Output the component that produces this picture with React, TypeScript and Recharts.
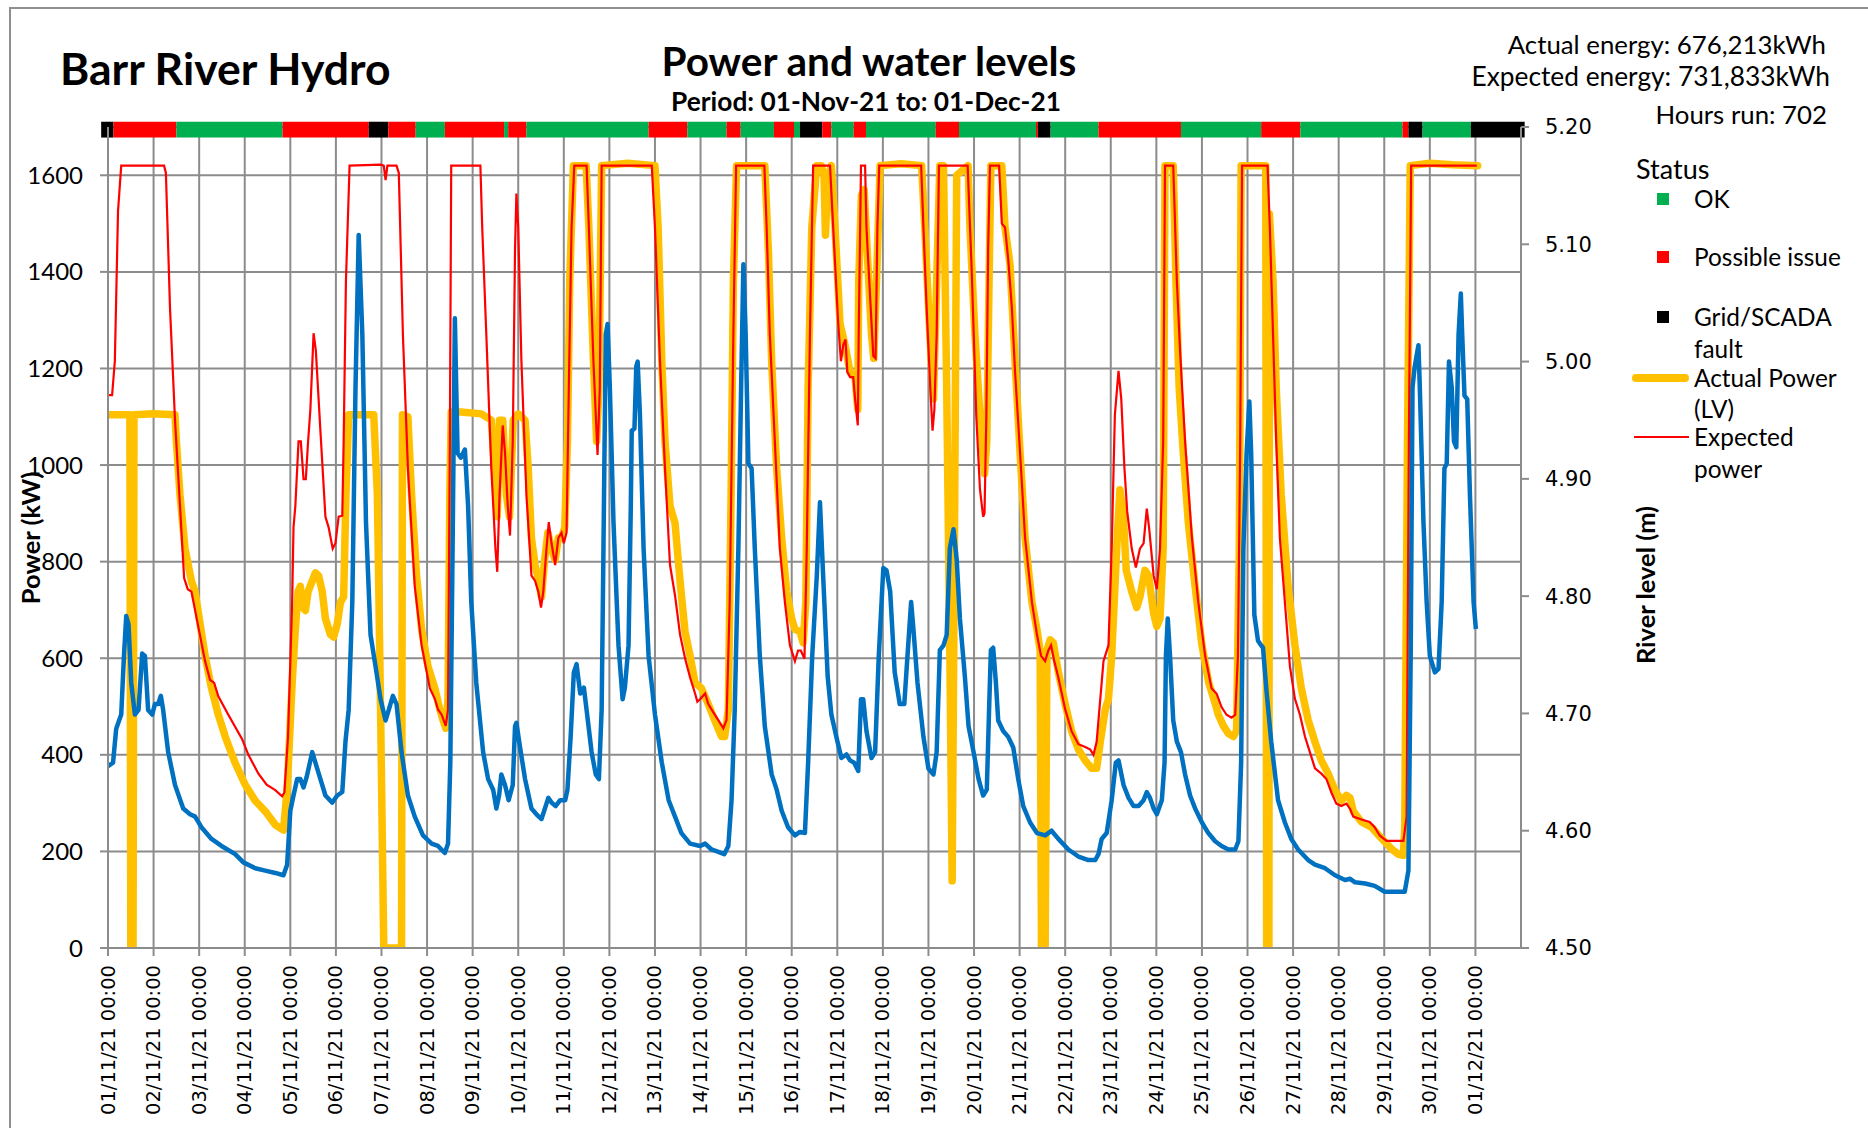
import React from 'react';
import {
  ComposedChart,
  Line,
  XAxis,
  YAxis,
  CartesianGrid,
  ReferenceArea,
} from 'recharts';

// ---------- axis ticks ----------
const dayTicks: number[] = [
  0, 1, 2, 3, 4, 5, 6, 7, 8, 9, 10, 11, 12, 13, 14, 15, 16, 17, 18, 19, 20,
  21, 22, 23, 24, 25, 26, 27, 28, 29, 30,
];
const xTickLabels: string[] = [
  '01/11/21 00:00', '02/11/21 00:00', '03/11/21 00:00', '04/11/21 00:00',
  '05/11/21 00:00', '06/11/21 00:00', '07/11/21 00:00', '08/11/21 00:00',
  '09/11/21 00:00', '10/11/21 00:00', '11/11/21 00:00', '12/11/21 00:00',
  '13/11/21 00:00', '14/11/21 00:00', '15/11/21 00:00', '16/11/21 00:00',
  '17/11/21 00:00', '18/11/21 00:00', '19/11/21 00:00', '20/11/21 00:00',
  '21/11/21 00:00', '22/11/21 00:00', '23/11/21 00:00', '24/11/21 00:00',
  '25/11/21 00:00', '26/11/21 00:00', '27/11/21 00:00', '28/11/21 00:00',
  '29/11/21 00:00', '30/11/21 00:00', '01/12/21 00:00',
];
const powerTicks: number[] = [0, 200, 400, 600, 800, 1000, 1200, 1400, 1600];
const levelTicks: number[] = [4.5, 4.6, 4.7, 4.8, 4.9, 5.0, 5.1, 5.2];

// ---------- series: [day since 01-Nov 00:00, value] ----------
const actualPower: [number, number][] = [
  [0, 1104], [0.48, 1104], [0.5, 0], [0.55, 0], [0.57, 1104], [1.0, 1106], [1.47, 1104],
  [1.5, 1049], [1.58, 938], [1.69, 827], [1.83, 760], [1.91, 738], [2.02, 671], [2.13, 605],
  [2.27, 538], [2.42, 483], [2.57, 438], [2.79, 383], [3.01, 338], [3.23, 305], [3.45, 283],
  [3.67, 255], [3.85, 244], [3.93, 327], [4.04, 549], [4.11, 660], [4.17, 738], [4.22, 749],
  [4.27, 705], [4.33, 699], [4.39, 738], [4.46, 755], [4.55, 777], [4.62, 771], [4.7, 738],
  [4.77, 682], [4.88, 649], [4.95, 644], [5.03, 671], [5.1, 716], [5.17, 727], [5.22, 938],
  [5.28, 1104], [5.83, 1104], [5.91, 938], [5.98, 494], [6.05, 0], [6.44, 0], [6.46, 1104],
  [6.58, 1100], [6.66, 938], [6.77, 771], [6.88, 660], [7.02, 583], [7.17, 538], [7.28, 494],
  [7.35, 472], [7.41, 455], [7.46, 516], [7.5, 938], [7.53, 1110], [7.75, 1110], [8.19, 1106],
  [8.41, 1093], [8.48, 993], [8.54, 893], [8.59, 1093], [8.66, 1093], [8.74, 938], [8.81, 893],
  [8.89, 1093], [9.0, 1106], [9.15, 1093], [9.22, 993], [9.29, 849], [9.37, 793], [9.45, 760],
  [9.51, 727], [9.58, 804], [9.65, 860], [9.73, 827], [9.81, 804], [9.88, 849], [9.95, 849],
  [10.02, 871], [10.08, 1049], [10.13, 1381], [10.21, 1620], [10.49, 1620], [10.55, 1492],
  [10.65, 1215], [10.72, 1049], [10.77, 1160], [10.83, 1620], [11.4, 1625], [12.0, 1620],
  [12.07, 1492], [12.15, 1215], [12.22, 1049], [12.33, 915], [12.44, 880], [12.55, 760],
  [12.66, 655], [12.77, 605], [12.88, 549], [13.02, 538], [13.17, 505], [13.31, 472],
  [13.46, 438], [13.53, 438], [13.61, 494], [13.67, 938], [13.72, 1381], [13.79, 1620],
  [14.41, 1620], [14.49, 1440], [14.56, 1215], [14.67, 993], [14.78, 849], [14.89, 738],
  [15.0, 682], [15.07, 660], [15.18, 655], [15.25, 632], [15.31, 716], [15.36, 1160],
  [15.44, 1492], [15.55, 1620], [15.65, 1620], [15.71, 1600], [15.74, 1476], [15.79, 1590],
  [15.87, 1620], [15.95, 1492], [16.06, 1293], [16.17, 1248], [16.28, 1193], [16.39, 1182],
  [16.45, 1115], [16.47, 1381], [16.53, 1559], [16.59, 1570], [16.66, 1437], [16.75, 1270],
  [16.8, 1221], [16.86, 1381], [16.94, 1620], [17.4, 1624], [17.85, 1620], [17.92, 1492],
  [18.03, 1270], [18.11, 1137], [18.18, 1381], [18.25, 1620], [18.33, 1620], [18.4, 1160],
  [18.47, 605], [18.52, 139], [18.57, 827], [18.62, 1600], [18.87, 1620], [18.91, 1492],
  [19.02, 1270], [19.13, 1104], [19.23, 982], [19.28, 1049], [19.33, 1381], [19.37, 1620],
  [19.61, 1620], [19.68, 1492], [19.79, 1415], [19.9, 1215], [20.01, 1026], [20.12, 849],
  [20.27, 716], [20.38, 660], [20.45, 616], [20.48, 0], [20.56, 0], [20.6, 616], [20.67, 638],
  [20.74, 632], [20.85, 571], [21.0, 505], [21.14, 449], [21.29, 411], [21.44, 388],
  [21.58, 372], [21.69, 372], [21.77, 427], [21.88, 494], [21.95, 516], [22.02, 605],
  [22.13, 827], [22.2, 949], [22.27, 904], [22.34, 782], [22.46, 738], [22.57, 705],
  [22.64, 727], [22.75, 782], [22.83, 771], [22.94, 693], [23.01, 666], [23.08, 682],
  [23.15, 827], [23.19, 1620], [23.37, 1620], [23.43, 1381], [23.5, 1160], [23.59, 1026],
  [23.7, 882], [23.85, 749], [24.0, 627], [24.15, 549], [24.26, 516], [24.36, 483],
  [24.47, 460], [24.58, 444], [24.69, 438], [24.76, 449], [24.82, 827], [24.86, 1620],
  [25.4, 1620], [25.42, 0], [25.47, 0], [25.48, 1520], [25.56, 1381], [25.63, 1160],
  [25.74, 938], [25.89, 749], [26.04, 627], [26.18, 538], [26.33, 472], [26.48, 427],
  [26.62, 388], [26.77, 361], [26.92, 327], [27.06, 305], [27.17, 316], [27.25, 311],
  [27.32, 283], [27.5, 261], [27.72, 250], [27.94, 227], [28.16, 205], [28.31, 194],
  [28.42, 192], [28.45, 250], [28.51, 1049], [28.57, 1620], [29.0, 1625], [29.5, 1622],
  [30.05, 1620],
];

const expectedPower: [number, number][] = [
  [0, 1145], [0.09, 1145], [0.15, 1215], [0.22, 1526], [0.29, 1620], [1.23, 1620], [1.27, 1605],
  [1.36, 1326], [1.47, 1093], [1.58, 915], [1.67, 766], [1.75, 743], [1.83, 738], [1.98, 666],
  [2.13, 594], [2.24, 555], [2.33, 549], [2.42, 521], [2.64, 483], [2.94, 433], [3.08, 400],
  [3.3, 361], [3.48, 338], [3.67, 327], [3.82, 314], [3.87, 322], [3.95, 438], [4.04, 716],
  [4.07, 871], [4.11, 915], [4.18, 1049], [4.23, 1049], [4.29, 971], [4.34, 971], [4.39, 1049],
  [4.44, 1115], [4.51, 1273], [4.56, 1237], [4.66, 1071], [4.77, 893], [4.84, 871], [4.93, 827],
  [4.99, 838], [5.06, 893], [5.14, 895], [5.17, 1049], [5.22, 1381], [5.3, 1620], [5.98, 1622],
  [6.05, 1620], [6.09, 1590], [6.13, 1620], [6.33, 1620], [6.38, 1605], [6.47, 1270],
  [6.58, 993], [6.73, 749], [6.88, 627], [7.06, 538], [7.17, 516], [7.24, 494], [7.32, 483],
  [7.41, 460], [7.46, 494], [7.5, 1049], [7.53, 1620], [8.17, 1620], [8.21, 1492], [8.3, 1270],
  [8.41, 993], [8.5, 827], [8.54, 779], [8.59, 938], [8.66, 1082], [8.71, 1026], [8.77, 915],
  [8.82, 854], [8.88, 1049], [8.93, 1448], [8.96, 1562], [9.0, 1492], [9.07, 1215], [9.18, 938],
  [9.29, 771], [9.37, 760], [9.44, 738], [9.5, 705], [9.55, 738], [9.62, 827], [9.67, 882],
  [9.73, 838], [9.81, 793], [9.88, 849], [9.95, 860], [10.0, 838], [10.06, 860], [10.11, 1160],
  [10.17, 1492], [10.23, 1620], [10.5, 1620], [10.55, 1492], [10.65, 1215], [10.74, 1021],
  [10.79, 1160], [10.83, 1620], [11.93, 1620], [12.0, 1492], [12.11, 1215], [12.22, 993],
  [12.33, 793], [12.44, 730], [12.55, 649], [12.66, 600], [12.77, 560], [12.88, 527],
  [12.93, 510], [13.0, 516], [13.1, 527], [13.17, 505], [13.28, 488], [13.39, 472],
  [13.5, 455], [13.57, 472], [13.64, 716], [13.72, 1270], [13.78, 1620], [14.4, 1620],
  [14.45, 1492], [14.52, 1270], [14.63, 1049], [14.74, 827], [14.85, 716], [14.96, 627],
  [15.07, 594], [15.14, 616], [15.2, 616], [15.28, 599], [15.33, 827], [15.4, 1270],
  [15.47, 1620], [15.84, 1620], [15.91, 1492], [16.02, 1293], [16.08, 1215], [16.13, 1248],
  [16.18, 1260], [16.22, 1193], [16.28, 1182], [16.35, 1182], [16.39, 1137], [16.45, 1082],
  [16.47, 1270], [16.52, 1620], [16.61, 1620], [16.64, 1492], [16.72, 1348], [16.79, 1226],
  [16.84, 1221], [16.88, 1492], [16.92, 1620], [17.84, 1620], [17.89, 1492], [17.96, 1326],
  [18.04, 1160], [18.09, 1071], [18.13, 1115], [18.18, 1270], [18.23, 1620], [18.86, 1620],
  [18.95, 1400], [19.05, 1100], [19.13, 950], [19.2, 893], [19.23, 900], [19.27, 1100],
  [19.31, 1450], [19.35, 1620], [19.55, 1620], [19.61, 1500], [19.68, 1492], [19.75, 1426],
  [19.83, 1326], [19.9, 1193], [20.01, 1026], [20.12, 849], [20.27, 716], [20.38, 649],
  [20.47, 605], [20.56, 594], [20.63, 616], [20.69, 627], [20.76, 594], [20.85, 560],
  [21.0, 494], [21.14, 449], [21.29, 422], [21.44, 416], [21.55, 411], [21.62, 400],
  [21.69, 427], [21.77, 516], [21.84, 594], [21.95, 627], [22.02, 827], [22.09, 1104],
  [22.17, 1195], [22.23, 1137], [22.3, 993], [22.36, 904], [22.46, 827], [22.55, 788],
  [22.64, 827], [22.72, 838], [22.79, 910], [22.84, 871], [22.94, 771], [23.01, 743],
  [23.08, 827], [23.15, 1049], [23.19, 1620], [23.37, 1620], [23.45, 1381], [23.52, 1237],
  [23.63, 1049], [23.78, 849], [23.92, 716], [24.07, 605], [24.21, 538], [24.32, 527],
  [24.43, 499], [24.54, 483], [24.65, 477], [24.73, 483], [24.79, 605], [24.84, 1049],
  [24.88, 1620], [25.44, 1620], [25.49, 1492], [25.56, 1270], [25.63, 1049], [25.71, 849],
  [25.82, 716], [25.93, 583], [26.04, 516], [26.15, 483], [26.26, 438], [26.37, 405],
  [26.48, 372], [26.62, 361], [26.73, 350], [26.84, 322], [26.95, 299], [27.06, 294],
  [27.17, 299], [27.25, 288], [27.32, 272], [27.5, 266], [27.68, 261], [27.79, 250],
  [27.9, 233], [28.05, 222], [28.42, 222], [28.49, 272], [28.54, 1049], [28.59, 1620],
  [30.03, 1620],
];

const riverLevel: [number, number][] = [
  [0, 4.655], [0.11, 4.658], [0.18, 4.687], [0.29, 4.699], [0.35, 4.749], [0.4, 4.783],
  [0.45, 4.776], [0.51, 4.726], [0.59, 4.699], [0.67, 4.703], [0.75, 4.751], [0.81, 4.749],
  [0.88, 4.703], [0.97, 4.699], [1.03, 4.708], [1.1, 4.708], [1.16, 4.715], [1.21, 4.703],
  [1.32, 4.667], [1.47, 4.639], [1.65, 4.619], [1.8, 4.614], [1.91, 4.612], [2.05, 4.603],
  [2.27, 4.593], [2.49, 4.587], [2.79, 4.58], [2.97, 4.573], [3.23, 4.568], [3.45, 4.566],
  [3.67, 4.564], [3.85, 4.562], [3.93, 4.571], [4.0, 4.617], [4.07, 4.63], [4.15, 4.644],
  [4.22, 4.644], [4.29, 4.637], [4.36, 4.646], [4.48, 4.667], [4.59, 4.653], [4.77, 4.63],
  [4.92, 4.624], [5.03, 4.63], [5.14, 4.633], [5.21, 4.676], [5.28, 4.703], [5.36, 4.795],
  [5.43, 4.978], [5.5, 5.108], [5.58, 5.023], [5.66, 4.863], [5.76, 4.767], [5.87, 4.74],
  [5.98, 4.712], [6.09, 4.694], [6.16, 4.703], [6.25, 4.715], [6.33, 4.708], [6.44, 4.667],
  [6.58, 4.63], [6.73, 4.612], [6.91, 4.596], [7.1, 4.589], [7.24, 4.587], [7.39, 4.581],
  [7.46, 4.589], [7.51, 4.658], [7.56, 4.841], [7.61, 5.037], [7.64, 4.978], [7.67, 4.922],
  [7.74, 4.918], [7.83, 4.925], [7.9, 4.877], [7.97, 4.795], [8.08, 4.726], [8.23, 4.667],
  [8.34, 4.644], [8.45, 4.635], [8.52, 4.619], [8.58, 4.63], [8.63, 4.648], [8.71, 4.639],
  [8.79, 4.626], [8.88, 4.639], [8.93, 4.689], [8.96, 4.692], [9.04, 4.671], [9.15, 4.644],
  [9.29, 4.619], [9.4, 4.614], [9.51, 4.61], [9.57, 4.617], [9.66, 4.628], [9.73, 4.624],
  [9.82, 4.621], [9.92, 4.626], [10.03, 4.626], [10.08, 4.635], [10.15, 4.68], [10.22, 4.735],
  [10.28, 4.742], [10.36, 4.717], [10.44, 4.722], [10.5, 4.703], [10.61, 4.667], [10.7, 4.648],
  [10.77, 4.644], [10.83, 4.703], [10.87, 4.841], [10.92, 5.023], [10.96, 5.032], [11.01, 4.978],
  [11.09, 4.863], [11.2, 4.758], [11.29, 4.712], [11.34, 4.722], [11.42, 4.758], [11.47, 4.877],
  [11.49, 4.941], [11.55, 4.943], [11.59, 4.996], [11.62, 5.0], [11.67, 4.955], [11.75, 4.841],
  [11.86, 4.749], [12.0, 4.699], [12.15, 4.658], [12.3, 4.626], [12.44, 4.612], [12.58, 4.598],
  [12.77, 4.589], [12.99, 4.587], [13.1, 4.589], [13.24, 4.584], [13.39, 4.582], [13.52, 4.58],
  [13.61, 4.587], [13.68, 4.626], [13.75, 4.703], [13.83, 4.841], [13.89, 4.978], [13.94, 5.083],
  [13.99, 5.023], [14.05, 4.913], [14.12, 4.909], [14.19, 4.841], [14.3, 4.749], [14.41, 4.689],
  [14.56, 4.648], [14.67, 4.635], [14.78, 4.617], [14.92, 4.603], [15.07, 4.596], [15.18, 4.599],
  [15.29, 4.598], [15.36, 4.658], [15.45, 4.749], [15.55, 4.817], [15.62, 4.88], [15.69, 4.817],
  [15.79, 4.731], [15.87, 4.699], [15.98, 4.68], [16.09, 4.662], [16.2, 4.665], [16.28, 4.66],
  [16.37, 4.658], [16.46, 4.651], [16.52, 4.712], [16.57, 4.712], [16.64, 4.685], [16.75, 4.662],
  [16.83, 4.667], [16.91, 4.749], [17.01, 4.824], [17.08, 4.822], [17.16, 4.804], [17.26, 4.735],
  [17.37, 4.708], [17.47, 4.708], [17.54, 4.749], [17.62, 4.795], [17.67, 4.772], [17.76, 4.726],
  [17.89, 4.68], [18.0, 4.653], [18.11, 4.648], [18.18, 4.667], [18.25, 4.754], [18.33, 4.758],
  [18.4, 4.767], [18.47, 4.841], [18.55, 4.857], [18.62, 4.831], [18.69, 4.781], [18.8, 4.731],
  [18.88, 4.689], [18.99, 4.667], [19.1, 4.644], [19.2, 4.63], [19.28, 4.635], [19.33, 4.703],
  [19.37, 4.754], [19.42, 4.756], [19.48, 4.726], [19.53, 4.694], [19.64, 4.685], [19.75, 4.68],
  [19.86, 4.671], [19.97, 4.644], [20.08, 4.621], [20.23, 4.607], [20.38, 4.598], [20.56, 4.596],
  [20.7, 4.6], [20.85, 4.593], [21.07, 4.584], [21.29, 4.578], [21.51, 4.575], [21.66, 4.575],
  [21.73, 4.58], [21.8, 4.593], [21.91, 4.598], [22.02, 4.626], [22.11, 4.658], [22.17, 4.66],
  [22.28, 4.639], [22.39, 4.628], [22.5, 4.621], [22.61, 4.621], [22.72, 4.626], [22.79, 4.633],
  [22.86, 4.628], [22.94, 4.619], [23.01, 4.614], [23.12, 4.626], [23.18, 4.658], [23.21, 4.749],
  [23.25, 4.781], [23.3, 4.749], [23.37, 4.694], [23.45, 4.676], [23.54, 4.667], [23.63, 4.648],
  [23.74, 4.63], [23.85, 4.619], [24.0, 4.607], [24.14, 4.598], [24.29, 4.591], [24.43, 4.587],
  [24.58, 4.584], [24.73, 4.584], [24.8, 4.591], [24.86, 4.658], [24.91, 4.841], [24.98, 4.922],
  [25.04, 4.966], [25.08, 4.922], [25.15, 4.784], [25.23, 4.762], [25.3, 4.758], [25.34, 4.756],
  [25.41, 4.722], [25.52, 4.676], [25.67, 4.626], [25.82, 4.607], [25.96, 4.593], [26.11, 4.584],
  [26.33, 4.575], [26.48, 4.571], [26.7, 4.568], [26.92, 4.562], [27.14, 4.558], [27.25, 4.559],
  [27.36, 4.556], [27.58, 4.555], [27.79, 4.553], [28.01, 4.548], [28.23, 4.548], [28.45, 4.548],
  [28.53, 4.566], [28.58, 4.749], [28.62, 4.978], [28.67, 4.996], [28.75, 5.014], [28.78, 4.978],
  [28.86, 4.863], [28.93, 4.795], [29.0, 4.749], [29.11, 4.735], [29.19, 4.738], [29.26, 4.795],
  [29.32, 4.909], [29.37, 4.913], [29.42, 5.0], [29.48, 4.978], [29.53, 4.932], [29.58, 4.927],
  [29.63, 5.023], [29.68, 5.058], [29.71, 5.023], [29.76, 4.971], [29.82, 4.968], [29.88, 4.886],
  [29.96, 4.795], [30.01, 4.772],
];

// ---------- status bar segments: [from day, to day, status] ----------
const statusSegments: [number, number, string][] = [
  [-0.15, 0.12, 'fault'], [0.12, 1.5, 'issue'], [1.5, 3.83, 'ok'], [3.83, 5.72, 'issue'],
  [5.72, 6.15, 'fault'], [6.15, 6.75, 'issue'], [6.75, 7.39, 'ok'], [7.39, 8.69, 'issue'],
  [8.69, 8.78, 'ok'], [8.78, 9.18, 'issue'], [9.18, 11.86, 'ok'], [11.86, 12.71, 'issue'],
  [12.71, 13.57, 'ok'], [13.57, 13.88, 'issue'], [13.88, 14.61, 'ok'], [14.61, 15.05, 'issue'],
  [15.05, 15.18, 'ok'], [15.18, 15.67, 'fault'], [15.67, 15.87, 'issue'], [15.87, 16.36, 'ok'],
  [16.36, 16.63, 'issue'], [16.63, 18.16, 'ok'], [18.16, 18.67, 'issue'], [18.67, 20.36, 'ok'],
  [20.36, 20.4, 'issue'], [20.4, 20.68, 'fault'], [20.68, 21.73, 'ok'], [21.73, 23.54, 'issue'],
  [23.54, 25.3, 'ok'], [25.3, 26.16, 'issue'], [26.16, 28.4, 'ok'], [28.4, 28.53, 'issue'],
  [28.53, 28.84, 'fault'], [28.84, 29.9, 'ok'], [29.9, 31.08, 'fault'],
];

const statusLegend: [string, string][] = [
  ['ok', 'OK'],
  ['issue', 'Possible issue'],
  ['fault', 'Grid/SCADA fault'],
];

const STATUS_COLORS: Record<string, string> = {
  ok: '#00B050',
  issue: '#FF0000',
  fault: '#000000',
};

const toRows = (pairs: [number, number][]) => pairs.map(([d, v]) => ({ d, v }));
const actualData = toRows(actualPower);
const expectedData = toRows(expectedPower);
const levelData = toRows(riverLevel);

const GRID = '#8c8c8c';
const CAL = 'Lato, "Open Sans", sans-serif';
const VERD = '"DejaVu Sans", Verdana, sans-serif';

const XTick = (props: any) => {
  const { x, y, payload } = props;
  const idx = dayTicks.indexOf(payload.value);
  const label = idx >= 0 ? xTickLabels[idx] : '';
  return (
    <text
      x={x}
      y={y}
      transform={`rotate(-90, ${x}, ${y})`}
      textAnchor="end"
      dominantBaseline="central"
      fontFamily={VERD}
      fontSize={19.5}
      fill="#000"
    >
      {label}
    </text>
  );
};

const Txt = ({ left, right, cy, size, bold, children, center }: any) => {
  const lh = Math.round(size * 1.3);
  const style: React.CSSProperties = {
    position: 'absolute',
    top: cy - lh / 2,
    height: lh,
    lineHeight: `${lh}px`,
    fontSize: size,
    fontWeight: bold ? 700 : 400,
    fontFamily: CAL,
    whiteSpace: 'nowrap',
    color: '#000',
  };
  if (center !== undefined) {
    style.left = center;
    style.transform = 'translateX(-50%)';
  } else if (right !== undefined) {
    style.right = 1868 - right;
  } else {
    style.left = left;
  }
  return <div style={style}>{children}</div>;
};

const Rotated = ({ cx, cy, size, children }: any) => (
  <div
    style={{
      position: 'absolute',
      left: cx,
      top: cy,
      transform: 'translate(-50%, -50%) rotate(-90deg)',
      fontFamily: CAL,
      fontWeight: 700,
      fontSize: size,
      whiteSpace: 'nowrap',
      color: '#000',
    }}
  >
    {children}
  </div>
);

export default function App() {
  const legendRows = [199, 257, 317];
  return (
    <div
      style={{
        position: 'absolute',
        left: 0,
        top: 0,
        width: 1868,
        height: 1128,
        overflow: 'hidden',
        background: '#fff',
      }}
    >
      <div
        style={{
          position: 'absolute',
          left: 9,
          top: 7,
          width: 1900,
          height: 1200,
          border: `2px solid #8f8f8f`,
        }}
      />
      <div style={{ position: 'absolute', left: 0, top: 0 }}>
        <ComposedChart
          width={1868}
          height={1128}
          margin={{ top: 127, right: 287, bottom: 20, left: 48 }}
        >
          <CartesianGrid yAxisId="left" stroke={GRID} strokeWidth={2} />
          <XAxis
            type="number"
            dataKey="d"
            domain={[0, 31]}
            ticks={dayTicks}
            interval={0}
            allowDataOverflow
            height={160}
            tickSize={8}
            tickMargin={9}
            tick={<XTick />}
            axisLine={{ stroke: GRID, strokeWidth: 2 }}
            tickLine={{ stroke: GRID, strokeWidth: 2 }}
          />
          <YAxis
            yAxisId="left"
            domain={[0, 1700]}
            ticks={powerTicks}
            interval={0}
            allowDataOverflow
            width={60}
            tickSize={8}
            tickMargin={17}
            tick={{ fontFamily: CAL, fontSize: 24, fill: '#000' }}
            axisLine={{ stroke: GRID, strokeWidth: 2 }}
            tickLine={{ stroke: GRID, strokeWidth: 2 }}
          />
          <YAxis
            yAxisId="right"
            orientation="right"
            domain={[4.5, 5.2]}
            ticks={levelTicks}
            interval={0}
            allowDataOverflow
            width={60}
            tickSize={8}
            tickMargin={16}
            tickFormatter={(v: number) => v.toFixed(2)}
            tick={{ fontFamily: VERD, fontSize: 21, fill: '#000' }}
            axisLine={{ stroke: GRID, strokeWidth: 2 }}
            tickLine={{ stroke: GRID, strokeWidth: 2 }}
          />
          <Line
            yAxisId="left"
            data={actualData}
            dataKey="v"
            type="linear"
            stroke="#FFC000"
            strokeWidth={7.5}
            strokeLinejoin="round"
            strokeLinecap="round"
            dot={false}
            activeDot={false}
            isAnimationActive={false}
          />
          <Line
            yAxisId="left"
            data={expectedData}
            dataKey="v"
            type="linear"
            stroke="#FF0000"
            strokeWidth={2.2}
            dot={false}
            activeDot={false}
            isAnimationActive={false}
          />
          <Line
            yAxisId="right"
            data={levelData}
            dataKey="v"
            type="linear"
            stroke="#0070C0"
            strokeWidth={4.5}
            strokeLinejoin="round"
            dot={false}
            activeDot={false}
            isAnimationActive={false}
          />
          {statusSegments.map(([a, b, s], i) => (
            <ReferenceArea
              key={i}
              yAxisId="right"
              x1={a}
              x2={b}
              y1={5.191}
              y2={5.2045}
              fill={STATUS_COLORS[s]}
              fillOpacity={1}
              stroke="none"
              ifOverflow="visible"
            />
          ))}
        </ComposedChart>
      </div>

      {/* titles */}
      <Txt left={60} cy={68} size={44.5} bold>
        Barr River Hydro
      </Txt>
      <Txt center={869} cy={60} size={40.5} bold>
        Power and water levels
      </Txt>
      <Txt center={866} cy={101} size={26.3} bold>
        Period: 01-Nov-21 to: 01-Dec-21
      </Txt>
      <Txt right={1826} cy={44} size={25.8}>
        Actual energy: 676,213kWh
      </Txt>
      <Txt right={1830} cy={76} size={26.3}>
        Expected energy: 731,833kWh
      </Txt>
      <Txt right={1827} cy={114} size={25.8}>
        Hours run: 702
      </Txt>

      {/* axis titles */}
      <Rotated cx={30} cy={538} size={25.5}>
        Power (kW)
      </Rotated>
      <Rotated cx={1645} cy={585} size={25.5}>
        River level (m)
      </Rotated>

      {/* legend */}
      <Txt left={1636} cy={168} size={27}>
        Status
      </Txt>
      {statusLegend.map(([key, label], i) => (
        <React.Fragment key={key}>
          <div
            style={{
              position: 'absolute',
              left: 1657,
              top: legendRows[i] - 6,
              width: 12,
              height: 12,
              background: STATUS_COLORS[key],
            }}
          />
          {key === 'fault' ? (
            <>
              <Txt left={1694} cy={legendRows[i]} size={24.4}>
                Grid/SCADA
              </Txt>
              <Txt left={1694} cy={349} size={24.4}>
                fault
              </Txt>
            </>
          ) : (
            <Txt left={1694} cy={legendRows[i]} size={24.4}>
              {label}
            </Txt>
          )}
        </React.Fragment>
      ))}
      <div
        style={{
          position: 'absolute',
          left: 1632,
          top: 378 - 4,
          width: 57,
          height: 8,
          borderRadius: 4,
          background: '#FFC000',
        }}
      />
      <Txt left={1694} cy={378} size={24.4}>
        Actual Power
      </Txt>
      <Txt left={1694} cy={409} size={24.4}>
        (LV)
      </Txt>
      <div
        style={{
          position: 'absolute',
          left: 1634,
          top: 437 - 1,
          width: 55,
          height: 2,
          background: '#FF0000',
        }}
      />
      <Txt left={1694} cy={437} size={24.4}>
        Expected
      </Txt>
      <Txt left={1694} cy={469} size={24.4}>
        power
      </Txt>
    </div>
  );
}
